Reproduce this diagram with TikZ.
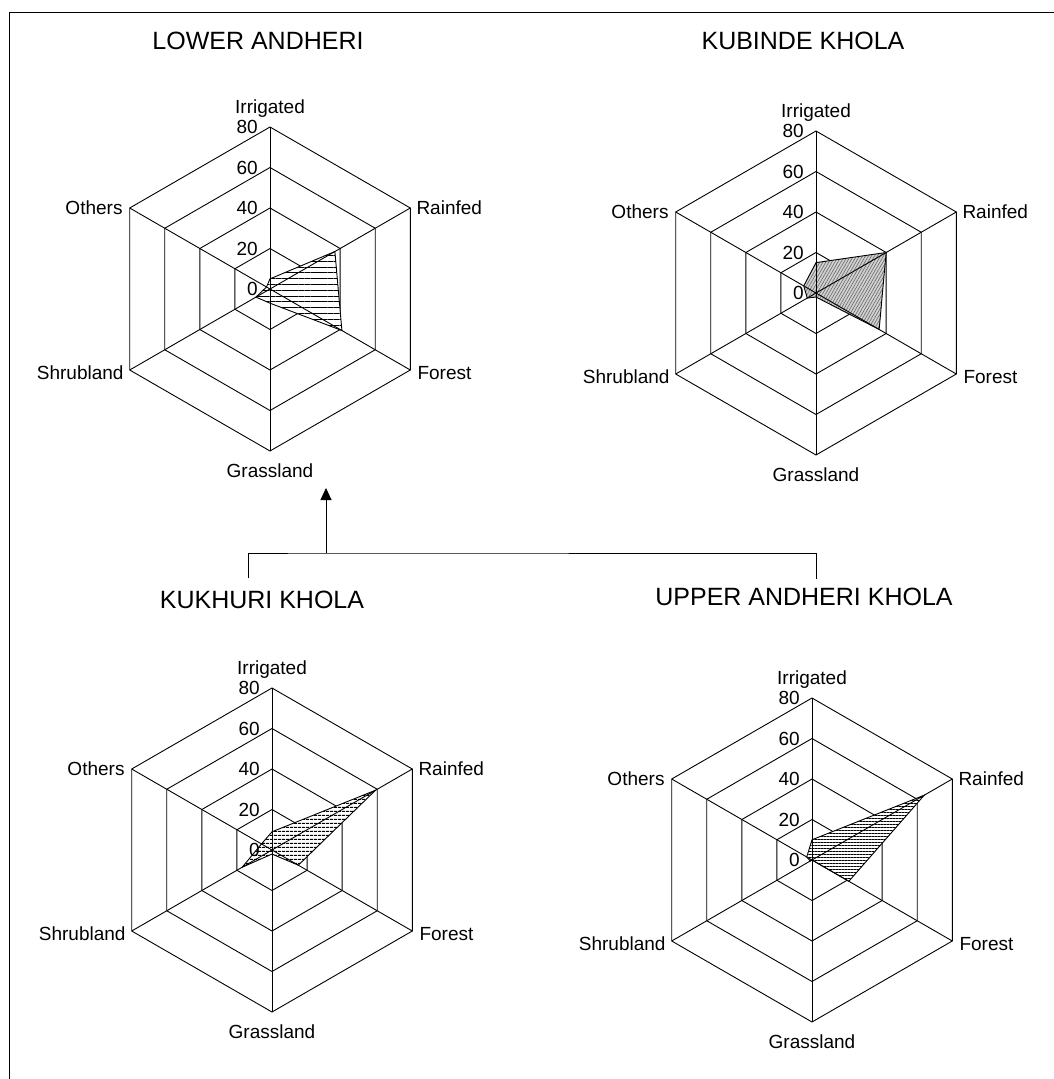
\documentclass[tikz,border=0pt]{standalone}
\usepackage{fontspec}
\setmainfont{Liberation Sans}
\usetikzlibrary{calc,arrows.meta,patterns.meta}
\tikzset{
	grid line/.style={draw=black, line width=0.9pt},
	axis label/.style={font=\fontsize{19}{19}\selectfont, inner sep=0pt},
	tick label/.style={font=\fontsize{19}{19}\selectfont, anchor=east, inner sep=0pt},
	site title/.style={font=\fontsize{25}{25}\selectfont, inner sep=0pt, anchor=base},
	hatch lower/.style={draw=black, line width=0.9pt, preaction={fill=white}, pattern={Lines[angle=0,distance=5.8pt,line width=0.9pt]}},
	hatch kubinde/.style={draw=black, line width=0.9pt, preaction={fill=black!18}, pattern={Lines[angle=60,distance=2.6pt,line width=0.6pt]}, pattern color=black!60},
	hatch kukhuri/.style={draw=black, line width=0.9pt, preaction={fill=white}, pattern={Lines[angle=0,distance=4pt,line width=1.3pt]}},
	hatch upper/.style={draw=black, line width=0.9pt, preaction={fill=white}, pattern={Lines[angle=0,distance=3pt,line width=0.8pt]}}
}
\def\unitlen{2.025}
% #1 name, #2 centre, #3-#8 values (Irrigated ... Others), #9 fill style
\def\RadarChart#1#2#3#4#5#6#7#8#9{%
	\coordinate (#1) at (#2);
	\foreach \r in {1,...,4}
	\draw[grid line] ($(#1)+(90:\r*40.5)$) -- ($(#1)+(30:\r*40.5)$) -- ($(#1)+(-30:\r*40.5)$)
		-- ($(#1)+(-90:\r*40.5)$) -- ($(#1)+(-150:\r*40.5)$) -- ($(#1)+(150:\r*40.5)$) -- cycle;
	\filldraw[#9] ($(#1)+(90:#3*\unitlen)$) -- ($(#1)+(30:#4*\unitlen)$)
		-- ($(#1)+(-30:#5*\unitlen)$) -- ($(#1)+(-90:#6*\unitlen)$)
		-- ($(#1)+(-150:#7*\unitlen)$) -- ($(#1)+(150:#8*\unitlen)$) -- cycle;
	\foreach \a/\lab in {90/irr,30/rain,-30/for,-90/gra,-150/shr,150/oth}
	\draw[grid line] (#1) -- ($(#1)+(\a:162)$) coordinate (#1-\lab);
	\foreach \v in {0,20,...,80}
	\node[tick label] (#1-t\v) at ($(#1)+(-12,\v*\unitlen)$) {\v};
	\node[axis label, anchor=base] (#1-irr-l) at ($(#1-irr)+(0,14)$) {Irrigated};
	\node[axis label, anchor=west] (#1-rain-l) at ($(#1-rain)+(6,0)$) {Rainfed};
	\node[axis label, anchor=west] (#1-for-l) at ($(#1-for)+(7,-3)$) {Forest};
	\node[axis label, anchor=north] (#1-gra-l) at ($(#1-gra)+(0,-13)$) {Grassland};
	\node[axis label, anchor=east] (#1-shr-l) at ($(#1-shr)+(-6,-3)$) {Shrubland};
	\node[axis label, anchor=east] (#1-oth-l) at ($(#1-oth)+(-7,0)$) {Others};
}

\begin{document}
\begin{tikzpicture}[x=1pt, y=1pt]
\useasboundingbox (0,0) rectangle (1054,-1079);
\draw[grid line] (9,-1079) |- (1054,-12);

\node[site title] (lower) at (258,-49) {LOWER ANDHERI};
\node[site title] (kubinde) at (803,-49) {KUBINDE KHOLA};
\node[site title] (kukhuri) at (262,-608) {KUKHURI KHOLA};
\node[site title] (upper) at (804,-605) {UPPER ANDHERI KHOLA};

\RadarChart{la}{270,-289}{5}{37}{41}{7}{8}{2}{hatch lower}
\RadarChart{kb}{816,-293}{15}{40}{36}{2}{5}{7}{hatch kubinde}
\RadarChart{kk}{272,-850}{9}{59}{15}{2}{17}{6}{hatch kukhuri}
\RadarChart{ua}{812,-860}{10}{64}{21}{0}{1}{3}{hatch upper}

% link between the lower sites
\coordinate (kuk-top) at (248,-578);
\coordinate (upp-top) at (816,-579);
\coordinate (bar) at (326,-553);
\coordinate (tip) at (326,-488);
\draw[grid line] (kuk-top) |- (bar) -| (upp-top);
\draw[grid line, -{Triangle[width=11pt,length=12pt]}] (bar) -- (tip);
\end{tikzpicture}
\end{document}
